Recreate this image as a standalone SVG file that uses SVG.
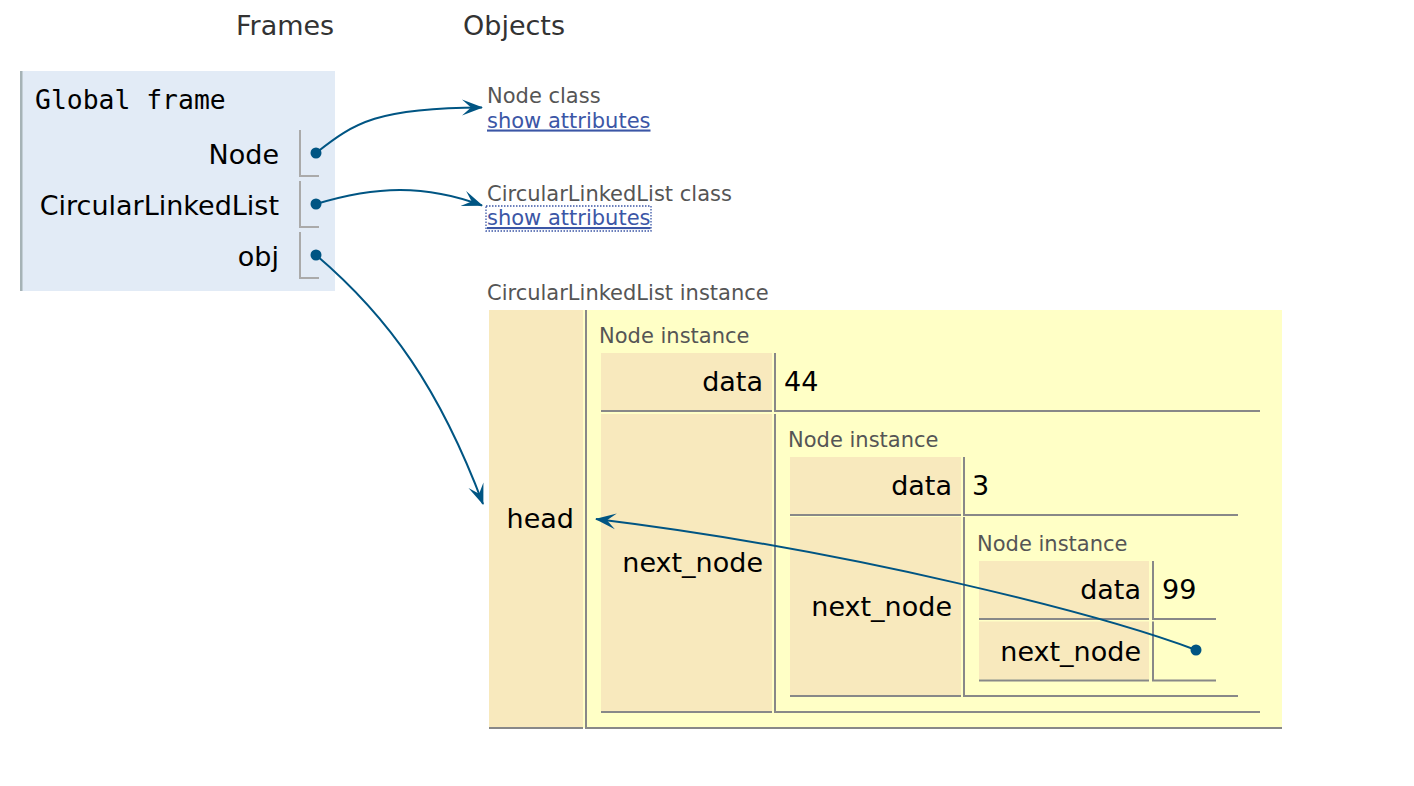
<svg xmlns="http://www.w3.org/2000/svg" width="1414" height="786" viewBox="0 0 1414 786">
<defs>
<style>
.hdr{font-family:"DejaVu Sans",Verdana,sans-serif;font-size:27px;fill:#333}
.lbl{font-family:"DejaVu Sans",Verdana,sans-serif;font-size:21px;fill:#555}
.link{font-family:"DejaVu Sans",Verdana,sans-serif;font-size:21px;fill:#3b56a6;text-decoration:underline}
.mono{font-family:"DejaVu Sans Mono",monospace;font-size:26.4px;fill:#000}
.key{font-family:"DejaVu Sans",Verdana,sans-serif;font-size:27px;fill:#000;text-anchor:end}
.val{font-family:"DejaVu Sans",Verdana,sans-serif;font-size:27px;fill:#000}
.kc{fill:#f8e9bd}
.bd{stroke:#888;stroke-width:2;fill:none}
.vb{stroke:#aaa;stroke-width:2;fill:none}
.conn{fill:none;stroke:#005583;stroke-width:2}
.dot{fill:#005583}
</style>
<marker id="ah" markerUnits="userSpaceOnUse" orient="auto" markerWidth="26" markerHeight="26" viewBox="-22 -13 26 26" refX="0" refY="0" overflow="visible">
<path d="M1,0 L-20,-8 L-11,0 L-20,8 Z" fill="#005583"/>
</marker>
</defs>
<rect width="1414" height="786" fill="#fff"/>
<g id="headers">
<text x="236" y="35" class="hdr">Frames</text>
<text x="463" y="35" class="hdr">Objects</text>
</g>
<g id="global-frame">
<rect x="20" y="71" width="315" height="220" fill="#e2ebf6"/>
<rect x="20" y="71" width="2.5" height="220" fill="#a6b3b6"/>
<text x="35" y="109" class="mono">Global frame</text>
<text x="279" y="164" class="key">Node</text>
<path class="vb" d="M300,130 V176 H319"/>
<text x="279" y="215" class="key">CircularLinkedList</text>
<path class="vb" d="M300,181 V227 H319"/>
<text x="279" y="266" class="key">obj</text>
<path class="vb" d="M300,232 V278 H319"/>
</g>
<g id="node-class">
<text x="487" y="103" class="lbl">Node class</text>
<text x="487" y="127.5" class="link">show attributes</text>
</g>
<g id="cll-class">
<text x="487" y="201" class="lbl">CircularLinkedList class</text>
<text x="487" y="225" class="link">show attributes</text>
<rect x="486" y="206" width="165" height="25" fill="none" stroke="#3b56a6" stroke-width="1.3" stroke-dasharray="1.5 1.5"/>
</g>
<g id="cll-instance">
<text x="487" y="300" class="lbl">CircularLinkedList instance</text>
<rect x="489" y="310" width="793" height="418" fill="#ffffc6"/>
<rect x="489" y="310" width="94" height="417" class="kc"/>
<text x="574" y="528" class="key">head</text>
<path class="bd" d="M489,728 H583 M585,728 H1282 M586,310 V729"/>
</g>
<g id="node1">
<text x="599" y="342.5" class="lbl">Node instance</text>
<rect x="601" y="353" width="171" height="57" class="kc"/>
<text x="763" y="391" class="key">data</text>
<text x="784" y="391" class="val">44</text>
<path class="bd" d="M601,411 H772 M775,353 V412 M776,411 H1260"/>
<rect x="601" y="414" width="171" height="297" class="kc"/>
<text x="763" y="572" class="key">next_node</text>
<path class="bd" d="M601,712 H772 M775,414 V713 M776,712 H1260"/>
</g>
<g id="node2">
<text x="788" y="447" class="lbl">Node instance</text>
<rect x="790" y="457" width="171" height="57" class="kc"/>
<text x="952" y="495" class="key">data</text>
<text x="972" y="495" class="val">3</text>
<path class="bd" d="M790,515 H961 M964,457 V516 M965,515 H1238"/>
<rect x="790" y="517" width="171" height="178" class="kc"/>
<text x="952" y="616" class="key">next_node</text>
<path class="bd" d="M790,696 H961 M964,517 V697 M965,696 H1238"/>
</g>
<g id="node3">
<text x="977" y="551" class="lbl">Node instance</text>
<rect x="979" y="561" width="170" height="57" class="kc"/>
<text x="1141" y="599" class="key">data</text>
<text x="1162" y="599" class="val">99</text>
<path class="bd" d="M979,619 H1149 M1153,561 V620 M1154,619 H1216"/>
<rect x="979" y="621.5" width="170" height="58" class="kc"/>
<text x="1141" y="661" class="key">next_node</text>
<path class="bd" d="M979,680.5 H1149 M1153,621.5 V681.5 M1154,680.5 H1216"/>
</g>
<g id="connectors">
<path class="conn" marker-end="url(#ah)" d="M316,153 C355,122 378,108 482,107.5"/>
<path class="conn" marker-end="url(#ah)" d="M316,204 C375,186 425,184 482,205.5"/>
<path class="conn" marker-end="url(#ah)" d="M316,255 C390,318 440,390 483,504"/>
<path class="conn" marker-end="url(#ah)" d="M1196,650 C1100,614 850,550 596,519"/>
<circle class="dot" cx="316" cy="153" r="5.5"/>
<circle class="dot" cx="316" cy="204" r="5.5"/>
<circle class="dot" cx="316" cy="255" r="5.5"/>
<circle class="dot" cx="1196" cy="650" r="5.5"/>
</g>
</svg>
